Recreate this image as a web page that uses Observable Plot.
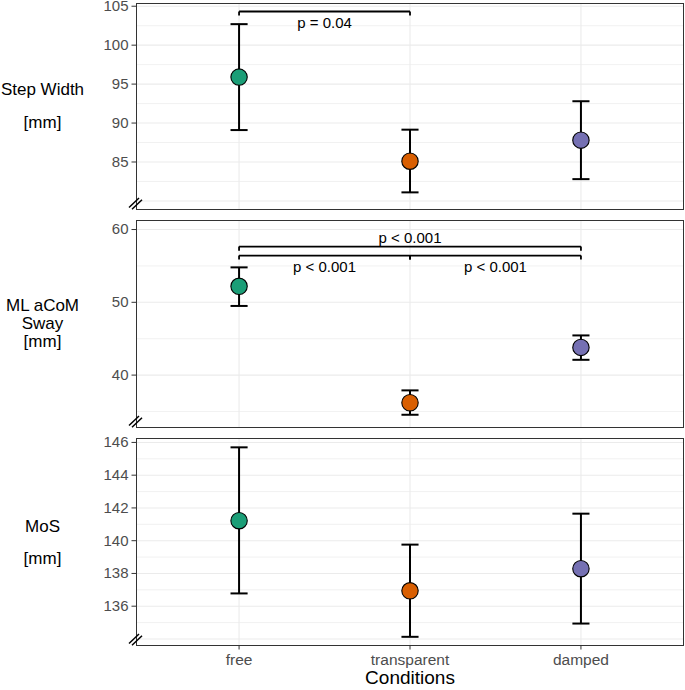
<!DOCTYPE html>
<html>
<head>
<meta charset="utf-8">
<script src="https://cdn.jsdelivr.net/npm/d3@7"></script>
<script src="https://cdn.jsdelivr.net/npm/@observablehq/plot@0.6"></script>
<style>
  html, body { margin: 0; padding: 0; background: #fff; }
  #chart svg { display: block; }
</style>
</head>
<body>
<div id="chart"></div>
<script>
// ---- data ----
const conditions = ["free", "transparent", "damped"];
const conditionColors = ["#1b9e77", "#d95f02", "#7570b3"];

const stepWidthMean = [95.9, 85.1, 87.8];
const stepWidthLow  = [89.1, 81.1, 82.8];
const stepWidthHigh = [102.7, 89.15, 92.8];

const swayMean = [52.2, 36.2, 43.8];
const swayLow  = [49.5, 34.55, 42.1];
const swayHigh = [54.8, 37.9, 45.45];

const mosMean = [141.22, 136.94, 138.29];
const mosLow  = [136.78, 134.13, 134.94];
const mosHigh = [145.7, 139.76, 141.65];

const stepWidthTicks = [85, 90, 95, 100, 105];
const swayTicks = [40, 50, 60];
const mosTicks = [136, 138, 140, 142, 144, 146];

// significance brackets: from/to condition index (1-based), bracket level, tip level, label, label level
const stepWidthBrackets = [
  {from: 1, to: 2, y: 104.32, tip: 103.8, label: "p = 0.04", labelY: 102.8}
];
const swayBrackets = [
  {from: 1, to: 3, y: 57.66, tip: 57.1, label: "p < 0.001", labelY: 58.86},
  {from: 1, to: 2, y: 56.42, tip: 55.87, label: "p < 0.001", labelY: 54.77},
  {from: 2, to: 3, y: 56.42, tip: 55.87, label: "p < 0.001", labelY: 54.77}
];

const FONT = "'Liberation Sans', Arial, Helvetica, sans-serif";

function rows(mean, low, high) {
  return conditions.map((c, i) => ({i: i + 1, cond: c, mean: mean[i], low: low[i], high: high[i]}));
}

// axis-break "//" symbol at the lower-left corner of the panel
function axisBreak() {
  return (index, scales, values, dimensions) => {
    const x0 = dimensions.marginLeft;
    const y0 = dimensions.height - dimensions.marginBottom;
    const g = d3.create("svg:g").attr("stroke", "black").attr("stroke-width", 1.5);
    for (const o of [[0, 0], [3, 1.8]]) {
      g.append("line")
        .attr("x1", x0 - 7 + o[0]).attr("y1", y0 - 1.5 + o[1])
        .attr("x2", x0 + 3 + o[0]).attr("y2", y0 - 11 + o[1]);
    }
    return g.node();
  };
}

function panel(cfg) {
  const data = rows(cfg.mean, cfg.low, cfg.high);
  const brackets = cfg.brackets || [];
  const tips = brackets.flatMap(b => [{x: b.from, y1: b.y, y2: b.tip}, {x: b.to, y1: b.y, y2: b.tip}]);
  const marks = [
    Plot.ruleY(cfg.minor, {stroke: "#ebebeb", strokeWidth: 0.7}),
    Plot.ruleY(cfg.major, {stroke: "#ebebeb", strokeWidth: 1.1}),
    Plot.ruleX([1, 2, 3], {stroke: "#ebebeb", strokeWidth: 1.1}),
    Plot.frame({stroke: "#333333", strokeWidth: 1}),
    Plot.axisY(cfg.ticks, {tickSize: 4.5, tickPadding: 3.5, stroke: "#333333", fill: "#4d4d4d",
      fontSize: 15, label: null}),
    Plot.text([cfg.title], {frameAnchor: "left", dx: -94, dy: cfg.titleDy, textAnchor: "middle", fontSize: 17,
      lineHeight: cfg.lineHeight, fill: "black"}),
    // significance brackets
    Plot.link(brackets, {x1: "from", x2: "to", y1: "y", y2: "y", stroke: "black", strokeWidth: 1.8}),
    Plot.link(tips, {x1: "x", x2: "x", y1: "y1", y2: "y2", stroke: "black", strokeWidth: 1.8}),
    Plot.text(brackets, {x: d => (d.from + d.to) / 2, y: "labelY", text: "label", fontSize: 15, fill: "black"}),
    // error bars
    Plot.link(data, {x1: "i", x2: "i", y1: "low", y2: "high", stroke: "black", strokeWidth: 2}),
    Plot.link(data, {x1: d => d.i - 0.05, x2: d => d.i + 0.05, y1: "low", y2: "low", stroke: "black", strokeWidth: 2}),
    Plot.link(data, {x1: d => d.i - 0.05, x2: d => d.i + 0.05, y1: "high", y2: "high", stroke: "black", strokeWidth: 2}),
    Plot.dot(data, {x: "i", y: "mean", r: 8.2, fill: "cond", stroke: "black", strokeWidth: 1.1}),
    axisBreak()
  ];
  if (cfg.xAxis) {
    marks.push(
      Plot.axisX([1, 2, 3], {tickFormat: i => conditions[i - 1], tickSize: 4.5, tickPadding: 3.5,
        stroke: "#333333", fill: "#4d4d4d", fontSize: 15.5, label: null}),
      Plot.text(["Conditions"], {frameAnchor: "bottom", dy: 38, fontSize: 19, fill: "black"})
    );
  }
  return Plot.plot({
    width: 685,
    height: cfg.height,
    marginTop: cfg.marginTop,
    marginBottom: cfg.marginBottom,
    marginLeft: 136,
    marginRight: 2,
    style: {fontFamily: FONT, background: "white", color: "black", overflow: "visible"},
    x: {domain: [0.4, 3.6], axis: null},
    y: {domain: cfg.domain, axis: null},
    color: {domain: conditions, range: conditionColors},
    marks
  });
}

const chart = document.getElementById("chart");
chart.append(panel({
  mean: stepWidthMean, low: stepWidthLow, high: stepWidthHigh,
  domain: [78.9, 105.35], ticks: stepWidthTicks,
  major: [80, 85, 90, 95, 100, 105], minor: [82.5, 87.5, 92.5, 97.5, 102.5],
  title: "Step Width\n[mm]", lineHeight: 1.94, titleDy: -5.5,
  brackets: stepWidthBrackets,
  height: 214, marginTop: 3, marginBottom: 5
}));
chart.append(panel({
  mean: swayMean, low: swayLow, high: swayHigh,
  domain: [32.8, 61.24], ticks: swayTicks,
  major: [40, 50, 60], minor: [35, 45, 55],
  title: "ML aCoM\nSway\n[mm]", lineHeight: 1.06, titleDy: -0.5,
  brackets: swayBrackets,
  height: 218, marginTop: 6, marginBottom: 5
}));
chart.append(panel({
  mean: mosMean, low: mosLow, high: mosHigh,
  domain: [133.6, 146.24], ticks: mosTicks,
  major: [134, 136, 138, 140, 142, 144, 146], minor: [135, 137, 139, 141, 143, 145],
  title: "MoS\n[mm]", lineHeight: 1.88, titleDy: -4.5,
  height: 258, marginTop: 6, marginBottom: 45, xAxis: true
}));
</script>
</body>
</html>
